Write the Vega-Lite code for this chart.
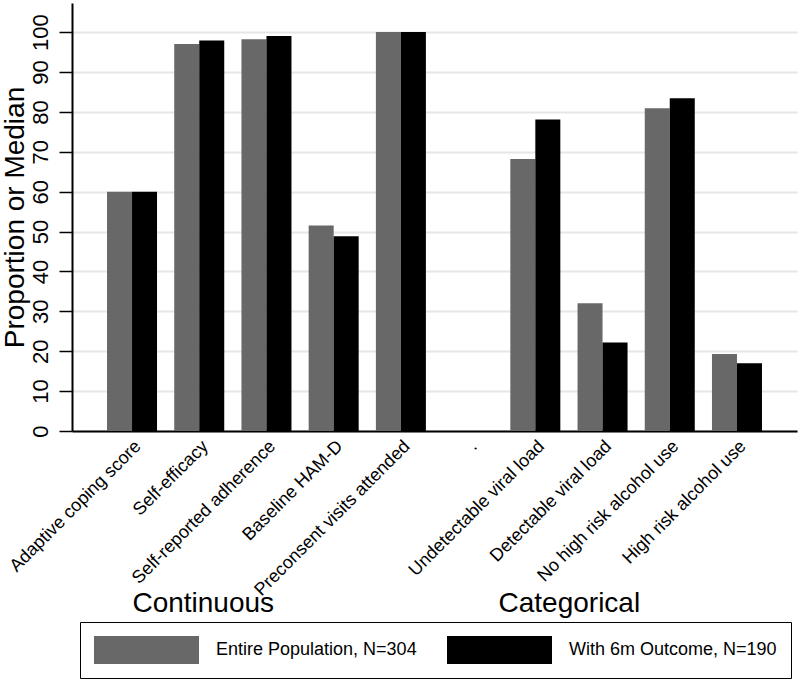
{
  "$schema": "https://vega.github.io/schema/vega-lite/v6.json",
  "width": 725,
  "height": 428,
  "autosize": {"type": "none"},
  "padding": {"left": 72, "top": 3, "right": 3, "bottom": 250},
  "background": "white",
  "config": {"view": {"stroke": null}, "font": "Liberation Sans"},
  "datasets": {
    "bars": [
      {"measure": "Adaptive coping score", "series": "Entire Population, N=304", "value": 60.0},
      {"measure": "Adaptive coping score", "series": "With 6m Outcome, N=190", "value": 60.0},
      {"measure": "Self-efficacy", "series": "Entire Population, N=304", "value": 97.0},
      {"measure": "Self-efficacy", "series": "With 6m Outcome, N=190", "value": 97.9},
      {"measure": "Self-reported adherence", "series": "Entire Population, N=304", "value": 98.2},
      {"measure": "Self-reported adherence", "series": "With 6m Outcome, N=190", "value": 99.0},
      {"measure": "Baseline HAM-D", "series": "Entire Population, N=304", "value": 51.5},
      {"measure": "Baseline HAM-D", "series": "With 6m Outcome, N=190", "value": 48.8},
      {"measure": "Preconsent visits attended", "series": "Entire Population, N=304", "value": 100.0},
      {"measure": "Preconsent visits attended", "series": "With 6m Outcome, N=190", "value": 100.0},
      {"measure": "Undetectable viral load", "series": "Entire Population, N=304", "value": 68.2},
      {"measure": "Undetectable viral load", "series": "With 6m Outcome, N=190", "value": 78.1},
      {"measure": "Detectable viral load", "series": "Entire Population, N=304", "value": 32.0},
      {"measure": "Detectable viral load", "series": "With 6m Outcome, N=190", "value": 22.2},
      {"measure": "No high risk alcohol use", "series": "Entire Population, N=304", "value": 80.9},
      {"measure": "No high risk alcohol use", "series": "With 6m Outcome, N=190", "value": 83.4},
      {"measure": "High risk alcohol use", "series": "Entire Population, N=304", "value": 19.3},
      {"measure": "High risk alcohol use", "series": "With 6m Outcome, N=190", "value": 17.0}
    ],
    "group1": [{"group": "Continuous", "measure": "Self-efficacy"}],
    "group2": [{"group": "Categorical", "measure": "Undetectable viral load"}]
  },
  "layer": [
    {
      "data": {"name": "bars"},
      "mark": {"type": "bar"},
      "encoding": {
        "x": {
          "field": "measure",
          "type": "nominal",
          "sort": null,
          "scale": {
            "domain": ["Adaptive coping score", "Self-efficacy", "Self-reported adherence", "Baseline HAM-D", "Preconsent visits attended", ".", "Undetectable viral load", "Detectable viral load", "No high risk alcohol use", "High risk alcohol use"],
            "paddingInner": 0.256,
            "paddingOuter": 0.521
          },
          "axis": {
            "title": null,
            "labelAngle": -45,
            "labelFontSize": 18,
            "labelColor": "black",
            "labelPadding": 6,
            "labelLimit": 0,
            "ticks": false,
            "domainColor": "black",
            "domainWidth": 2,
            "grid": false
          }
        },
        "xOffset": {
          "field": "series",
          "type": "nominal",
          "sort": ["Entire Population, N=304", "With 6m Outcome, N=190"],
          "scale": {"paddingInner": 0, "paddingOuter": 0}
        },
        "y": {
          "field": "value",
          "type": "quantitative",
          "scale": {"domain": [0, 107.3], "nice": false},
          "axis": {
            "title": "Proportion or Median",
            "titleFontSize": 28,
            "titleFontWeight": "normal",
            "titleColor": "black",
            "titlePadding": 0,
            "values": [0, 10, 20, 30, 40, 50, 60, 70, 80, 90, 100],
            "labelAngle": -90,
            "labelAlign": "center",
            "labelBaseline": "bottom",
            "labelFontSize": 22,
            "labelColor": "black",
            "labelPadding": 7,
            "tickSize": 13,
            "tickColor": "black",
            "tickWidth": 1.5,
            "domainColor": "black",
            "domainWidth": 2,
            "gridColor": "#e6e6e6",
            "gridWidth": 2
          }
        },
        "color": {
          "field": "series",
          "type": "nominal",
          "scale": {"domain": ["Entire Population, N=304", "With 6m Outcome, N=190"], "range": ["#686868", "#000000"]},
          "legend": {
            "title": null,
            "orient": "none",
            "legendX": 8,
            "legendY": 619,
            "direction": "horizontal",
            "columns": 2,
            "symbolType": "M-1,-1H6.5V1H-1Z",
            "symbolSize": 784,
            "symbolStrokeWidth": 0,
            "symbolOpacity": 1,
            "labelFontSize": 18,
            "labelColor": "black",
            "labelOffset": 94,
            "labelLimit": 0,
            "columnPadding": 30,
            "padding": 14,
            "strokeColor": "black"
          }
        }
      }
    },
    {
      "data": {"name": "group1"},
      "mark": {"type": "text", "fontSize": 28, "baseline": "alphabetic", "align": "center", "dx": 4, "clip": false, "color": "black"},
      "encoding": {
        "x": {"field": "measure", "type": "nominal"},
        "y": {"datum": -45.4},
        "text": {"field": "group"}
      }
    },
    {
      "data": {"name": "group2"},
      "mark": {"type": "text", "fontSize": 28, "baseline": "alphabetic", "align": "center", "dx": 34, "clip": false, "color": "black"},
      "encoding": {
        "x": {"field": "measure", "type": "nominal"},
        "y": {"datum": -45.4},
        "text": {"field": "group"}
      }
    }
  ]
}
